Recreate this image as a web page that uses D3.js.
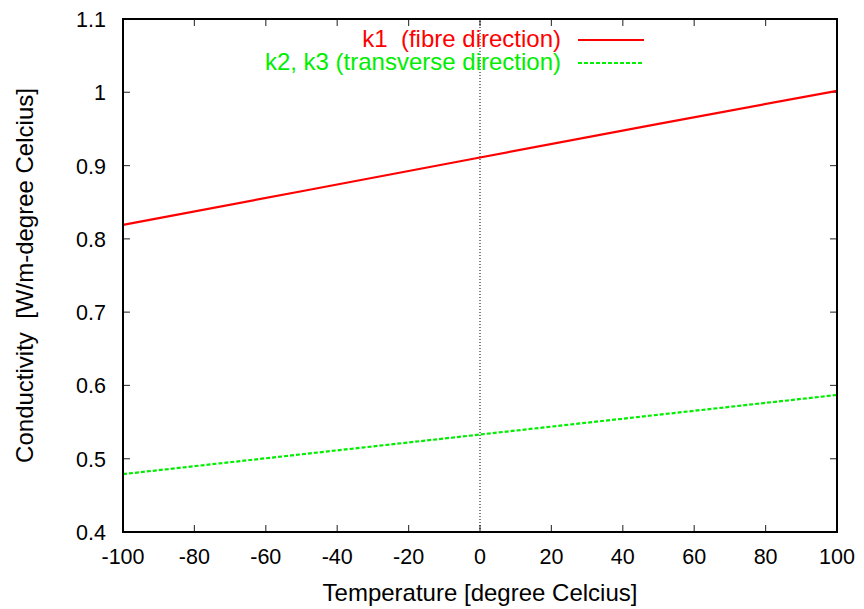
<!DOCTYPE html>
<html>
<head>
<meta charset="utf-8">
<script src="https://cdn.jsdelivr.net/npm/d3@7"></script>
<style>
  body { margin: 0; background: #fff; }
  svg text { font-family: "Liberation Sans", Arial, sans-serif; white-space: pre; }
</style>
</head>
<body>
<script>
const width = 864;
const height = 609;
const margin = {top: 19, right: 27, bottom: 77, left: 123};

// values
const temperature = [-100, -50, 0, 50, 100];
const k1 = [0.819, 0.865, 0.911, 0.957, 1.002];
const k23 = [0.479, 0.506, 0.533, 0.560, 0.587];
const xTicks = [-100, -80, -60, -40, -20, 0, 20, 40, 60, 80, 100];
const yTicks = [0.4, 0.5, 0.6, 0.7, 0.8, 0.9, 1.0, 1.1];

const series = [
  {name: 'k1  (fibre direction)', values: k1, colour: '#ff0000', dash: null},
  {name: 'k2, k3 (transverse direction)', values: k23, colour: '#00ee00', dash: '4,2'}
];

const svg = d3.select('body').append('svg')
  .attr('width', width)
  .attr('height', height);

const x = d3.scaleLinear().domain([-100, 100]).range([margin.left, width - margin.right]);
const y = d3.scaleLinear().domain([0.4, 1.1]).range([height - margin.bottom, margin.top]);

const fmt = (d) => d === 1 ? '1' : d3.format('.1f')(d);

// ticks (gnuplot style, inward, mirrored)
const tick = 7;
const g = svg.append('g').attr('stroke', '#444').attr('stroke-width', 1.2);
xTicks.forEach((d) => {
  g.append('line').attr('x1', x(d)).attr('x2', x(d)).attr('y1', y(0.4)).attr('y2', y(0.4) - tick);
  g.append('line').attr('x1', x(d)).attr('x2', x(d)).attr('y1', y(1.1)).attr('y2', y(1.1) + tick);
});
yTicks.forEach((d) => {
  g.append('line').attr('x1', x(-100)).attr('x2', x(-100) + tick).attr('y1', y(d)).attr('y2', y(d));
  g.append('line').attr('x1', x(100)).attr('x2', x(100) - tick).attr('y1', y(d)).attr('y2', y(d));
});

// zero axis
svg.append('line')
  .attr('x1', x(0)).attr('x2', x(0))
  .attr('y1', y(0.4)).attr('y2', y(1.1))
  .attr('stroke', '#000').attr('stroke-width', 1)
  .attr('stroke-dasharray', '1,2');

// tick labels
svg.append('g').selectAll('text').data(xTicks).join('text')
  .attr('x', (d) => x(d)).attr('y', y(0.4) + 32)
  .attr('text-anchor', 'middle').attr('font-size', 21.5)
  .text((d) => d);

svg.append('g').selectAll('text').data(yTicks).join('text')
  .attr('x', margin.left - 17).attr('y', (d) => y(d) + 8)
  .attr('text-anchor', 'end').attr('font-size', 21.5)
  .text(fmt);

// curves
const line = d3.line()
  .x((d, i) => x(temperature[i]))
  .y((d) => y(d));

series.forEach((s) => {
  svg.append('path')
    .attr('d', line(s.values))
    .attr('fill', 'none')
    .attr('stroke', s.colour)
    .attr('stroke-width', 2.2)
    .attr('stroke-dasharray', s.dash);
});

// border
svg.append('rect')
  .attr('x', x(-100)).attr('y', y(1.1))
  .attr('width', x(100) - x(-100)).attr('height', y(0.4) - y(1.1))
  .attr('fill', 'none').attr('stroke', '#000').attr('stroke-width', 2);

// legend
series.forEach((s, i) => {
  const ly = 40 + i * 23;
  svg.append('text')
    .attr('x', 561).attr('y', ly + 7)
    .attr('text-anchor', 'end').attr('font-size', 24)
    .attr('fill', s.colour)
    .text(s.name);
  svg.append('line')
    .attr('x1', 578).attr('x2', 644)
    .attr('y1', ly).attr('y2', ly)
    .attr('stroke', s.colour).attr('stroke-width', 2.2)
    .attr('stroke-dasharray', s.dash);
});

// axis titles
svg.append('text')
  .attr('x', (x(-100) + x(100)) / 2).attr('y', 601)
  .attr('text-anchor', 'middle').attr('font-size', 24)
  .text('Temperature [degree Celcius]');

svg.append('text')
  .attr('transform', `translate(33,${(y(0.4) + y(1.1)) / 2}) rotate(-90)`)
  .attr('text-anchor', 'middle').attr('font-size', 24)
  .text('Conductivity  [W/m-degree Celcius]');
</script>
</body>
</html>
